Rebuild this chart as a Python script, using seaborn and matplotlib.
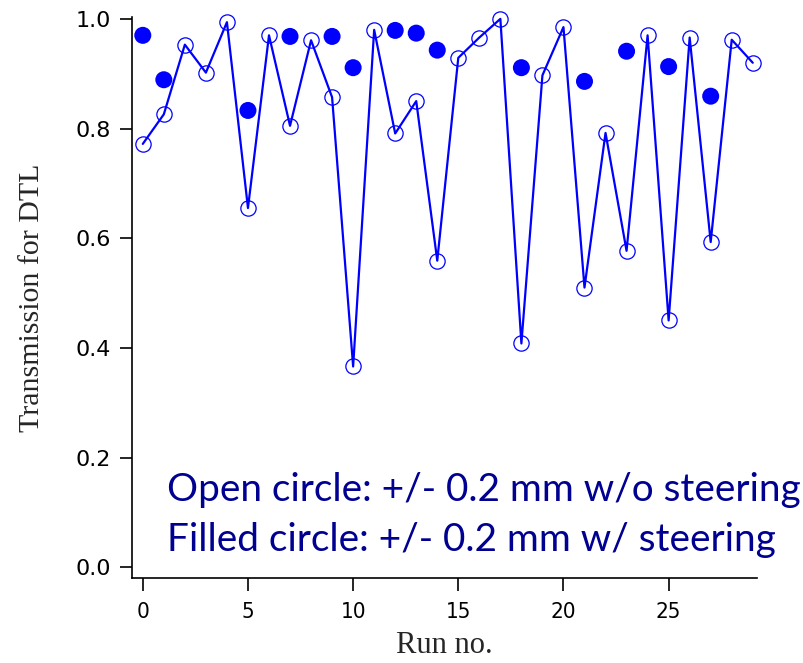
import matplotlib
matplotlib.use("Agg")
import matplotlib.pyplot as plt
import seaborn as sns
import numpy as np
import pandas as pd

runs = list(range(30))
open_vals = [0.772, 0.826, 0.953, 0.902, 0.994, 0.655, 0.970, 0.805, 0.961, 0.857,
             0.366, 0.980, 0.791, 0.850, 0.559, 0.929, 0.966, 1.000, 0.408, 0.897,
             0.985, 0.510, 0.792, 0.577, 0.970, 0.450, 0.966, 0.593, 0.962, 0.920]
filled_runs = [0, 1, 5, 7, 9, 10, 12, 13, 14, 18, 21, 23, 25, 27]
filled_vals = [0.970, 0.889, 0.833, 0.968, 0.968, 0.911, 0.979, 0.974, 0.943,
               0.911, 0.886, 0.941, 0.913, 0.859]
xticks = [0, 5, 10, 15, 20, 25]
yticks = [0.0, 0.2, 0.4, 0.6, 0.8, 1.0]
ytick_labels = ["0.0", "0.2", "0.4", "0.6", "0.8", "1.0"]
note_lines = ["Open circle: +/- 0.2 mm w/o steering",
              "Filled circle: +/- 0.2 mm w/ steering"]

df_open = pd.DataFrame({"run": runs, "T": open_vals})
df_fill = pd.DataFrame({"run": filled_runs, "T": filled_vals})

sns.set_style("ticks")
fig = plt.figure(figsize=(8.04, 6.63), dpi=100)
ax = fig.add_axes([0.164, 0.128, 0.7775, 0.846])

blue = "#0000FF"
sns.lineplot(data=df_open, x="run", y="T", ax=ax, color=blue, linewidth=1.6,
             marker="o", markersize=11, markerfacecolor="none",
             markeredgecolor=blue, markeredgewidth=0.9, clip_on=False)
sns.scatterplot(data=df_fill, x="run", y="T", ax=ax, color=blue, s=150,
                edgecolor="none", linewidth=0, clip_on=False)

ax.set_xlim(-0.52, 29.2)
ax.set_ylim(-0.02, 1.003)
ax.set_xticks(xticks)
ax.set_xticklabels([str(t) for t in xticks], family="DejaVu Sans", fontsize=16,
                   fontstretch="condensed")
ax.set_yticks(yticks)
ax.set_yticklabels(ytick_labels, family="DejaVu Sans", fontsize=16)
ax.tick_params(axis="both", direction="out", length=9, width=1.2, colors="black", pad=6)
ax.tick_params(axis="x", pad=8)
for s in ["top", "right"]:
    ax.spines[s].set_visible(False)
for s in ["left", "bottom"]:
    ax.spines[s].set_linewidth(1.2)
    ax.spines[s].set_color("black")

ax.set_xlabel("Run no.", family="Liberation Serif", fontsize=22, labelpad=7)
ax.set_ylabel("Transmission for DTL", family="Liberation Serif", fontsize=21.5, labelpad=22)

navy = "#000091"
ax.text(1.15, 0.140, note_lines[0], family="Lato", fontsize=27.9, color=navy,
        va="center", ha="left")
ax.text(1.15, 0.049, note_lines[1], family="Lato", fontsize=27.9, color=navy,
        va="center", ha="left")

fig.savefig("out.png", dpi=100)
